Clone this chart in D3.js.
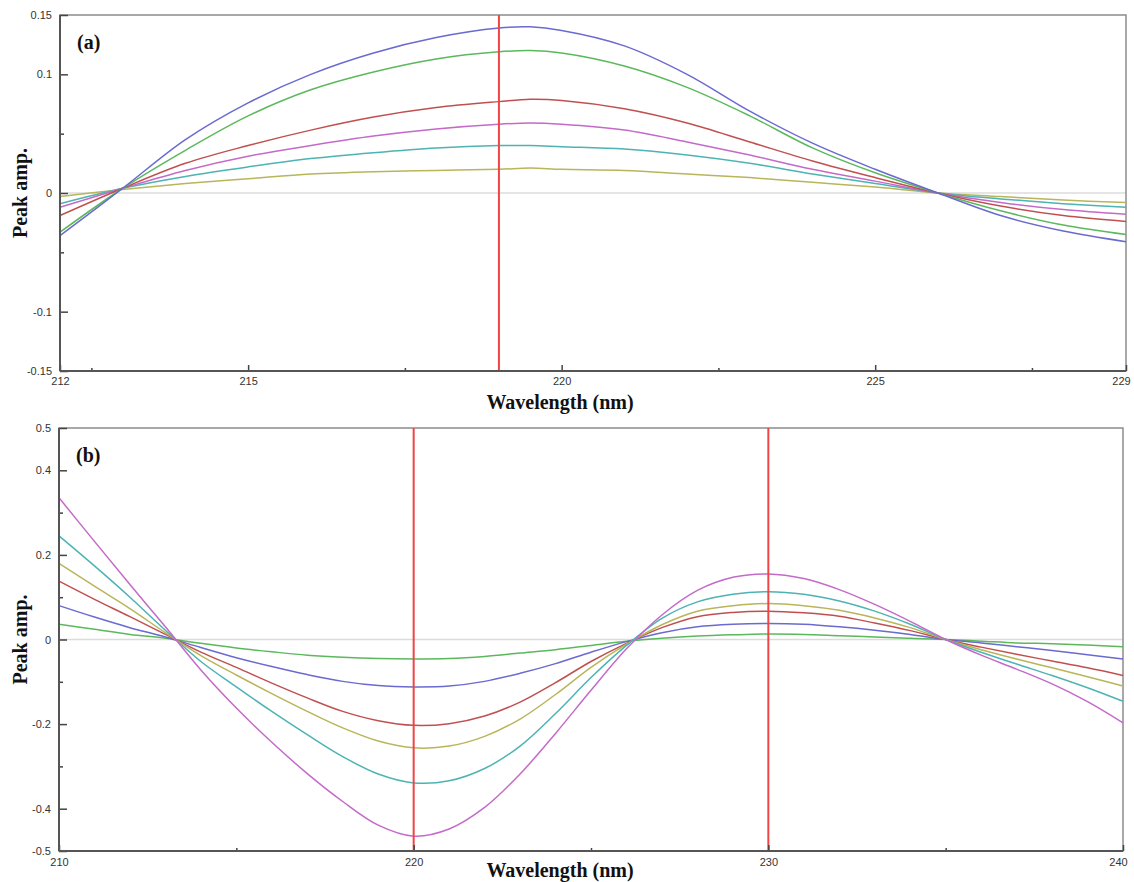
<!DOCTYPE html>
<html>
<head>
<meta charset="utf-8">
<script src="https://cdn.jsdelivr.net/npm/d3@7"></script>
<style>
  body { margin: 0; background: #fff; }
  .tick text { font-family: "Liberation Sans", Arial, sans-serif; font-size: 11px; fill: #333; }
  .axisTitle { font-family: "Liberation Serif", "Times New Roman", serif; font-weight: bold; font-size: 20px; fill: #111; }
</style>
</head>
<body>
<svg id="chart" width="1134" height="882"></svg>
<script>
// panel (a) data
let wavelengthsA = [212, 213, 214, 215, 216, 217, 218, 219, 219.5, 220, 221, 222, 223, 224, 225, 226, 227, 228, 229];
let blueA    = [-0.036, 0.004, 0.045, 0.076, 0.100, 0.118, 0.131, 0.139, 0.140, 0.137, 0.124, 0.100, 0.069, 0.042, 0.020, 0.000, -0.019, -0.032, -0.041];
let greenA   = [-0.033, 0.004, 0.036, 0.065, 0.087, 0.102, 0.113, 0.119, 0.120, 0.118, 0.107, 0.089, 0.065, 0.038, 0.017, 0.000, -0.015, -0.027, -0.035];
let redA     = [-0.019, 0.004, 0.025, 0.040, 0.053, 0.064, 0.072, 0.077, 0.079, 0.078, 0.071, 0.059, 0.043, 0.027, 0.013, 0.000, -0.011, -0.019, -0.024];
let magentaA = [-0.012, 0.004, 0.019, 0.031, 0.040, 0.048, 0.054, 0.058, 0.059, 0.058, 0.053, 0.043, 0.032, 0.020, 0.010, 0.000, -0.008, -0.014, -0.018];
let cyanA    = [-0.009, 0.004, 0.014, 0.022, 0.029, 0.034, 0.038, 0.040, 0.040, 0.039, 0.037, 0.032, 0.025, 0.016, 0.008, 0.000, -0.005, -0.009, -0.012];
let oliveA   = [-0.003, 0.003, 0.008, 0.012, 0.016, 0.018, 0.019, 0.020, 0.021, 0.020, 0.019, 0.016, 0.013, 0.009, 0.005, 0.000, -0.003, -0.006, -0.008];
let markersA = [219];
let xLabelsA = [212, 215, 220, 225, 229];
let xMinorA  = [212.5, 217.5, 222.5, 227.5];
let yLabelsA = [0.15, 0.1, 0, -0.1, -0.15];
let yMinorA  = [0.05, -0.05];

// panel (b) data
let wavelengthsB = [210, 211, 212, 213, 214, 215, 216, 217, 218, 219, 220, 221, 222, 223, 224, 225, 226, 227, 228, 229, 230, 231, 232, 233, 234, 235, 236, 237, 238, 239, 240];
let magentaB = [0.335, 0.232, 0.130, 0.030, -0.072, -0.162, -0.243, -0.317, -0.383, -0.439, -0.465, -0.448, -0.397, -0.318, -0.222, -0.120, -0.022, 0.058, 0.116, 0.147, 0.155, 0.144, 0.118, 0.083, 0.043, 0.000, -0.037, -0.070, -0.105, -0.147, -0.197];
let cyanB    = [0.245, 0.174, 0.100, 0.022, -0.052, -0.112, -0.170, -0.225, -0.277, -0.318, -0.339, -0.334, -0.305, -0.252, -0.175, -0.090, -0.014, 0.050, 0.089, 0.107, 0.113, 0.107, 0.091, 0.067, 0.036, 0.000, -0.030, -0.058, -0.085, -0.114, -0.146];
let oliveB   = [0.180, 0.126, 0.073, 0.016, -0.038, -0.084, -0.128, -0.170, -0.209, -0.240, -0.256, -0.252, -0.229, -0.188, -0.130, -0.066, -0.011, 0.035, 0.067, 0.080, 0.085, 0.080, 0.069, 0.051, 0.028, 0.000, -0.024, -0.046, -0.067, -0.088, -0.110];
let redB     = [0.138, 0.095, 0.054, 0.012, -0.030, -0.066, -0.103, -0.138, -0.170, -0.192, -0.203, -0.199, -0.181, -0.148, -0.102, -0.052, -0.009, 0.028, 0.054, 0.064, 0.067, 0.063, 0.055, 0.039, 0.021, 0.000, -0.018, -0.035, -0.051, -0.067, -0.085];
let blueB    = [0.080, 0.053, 0.028, 0.006, -0.019, -0.043, -0.064, -0.083, -0.099, -0.109, -0.112, -0.110, -0.099, -0.080, -0.057, -0.030, -0.005, 0.016, 0.030, 0.036, 0.038, 0.036, 0.030, 0.022, 0.012, 0.000, -0.008, -0.017, -0.026, -0.036, -0.046];
let greenB   = [0.036, 0.024, 0.012, 0.003, -0.009, -0.020, -0.029, -0.037, -0.042, -0.045, -0.046, -0.045, -0.040, -0.032, -0.024, -0.014, -0.004, 0.003, 0.008, 0.011, 0.013, 0.012, 0.009, 0.006, 0.003, 0.000, -0.004, -0.008, -0.010, -0.013, -0.017];
let markersB = [220, 230];
let xLabelsB = [210, 220, 230, 240];
let xMinorB  = [215, 225, 235];
let yLabelsB = [0.5, 0.4, 0.2, 0, -0.2, -0.4, -0.5];
let yMinorB  = [0.3, 0.1, -0.1, -0.3];

let colors = {
  blue: "#6a6ad0", green: "#5cb85c", red: "#c05050",
  magenta: "#c46ac8", cyan: "#4db3b3", olive: "#b9b55a"
};

let svg = d3.select("#chart");

function drawPanel(p) {
  let x = d3.scaleLinear().domain(p.xDomain).range([p.left, p.right]);
  let y = d3.scaleLinear().domain(p.yDomain).range([p.bottom, p.top]);
  let g = svg.append("g");

  // zero line
  g.append("line")
    .attr("x1", p.left).attr("x2", p.right)
    .attr("y1", y(0)).attr("y2", y(0))
    .attr("stroke", "#dcdcdc").attr("stroke-width", 1.5);

  // frame
  g.append("rect")
    .attr("x", p.left).attr("y", p.top)
    .attr("width", p.right - p.left).attr("height", p.bottom - p.top)
    .attr("fill", "none").attr("stroke", "#8c8c8c").attr("stroke-width", 1.5);

  // curves
  let line = d3.line()
    .x((d, i) => x(p.wavelengths[i]))
    .y(d => y(d))
    .curve(d3.curveCatmullRom.alpha(0.5));
  p.series.forEach(s => {
    g.append("path")
      .datum(s.values)
      .attr("fill", "none")
      .attr("stroke", colors[s.color])
      .attr("stroke-width", 1.5)
      .attr("d", line);
  });

  // red marker lines
  g.selectAll(".marker")
    .data(p.markers)
    .enter()
    .append("line")
    .attr("class", "marker")
    .attr("x1", d => x(d)).attr("x2", d => x(d))
    .attr("y1", p.top).attr("y2", p.bottom)
    .attr("stroke", "#f04545").attr("stroke-width", 2);

  // axes, ticks point inward
  let xAxis = d3.axisBottom(x).tickValues(p.xLabels).tickSizeInner(-6).tickSizeOuter(0)
    .tickPadding(p.xPad).tickFormat(d => String(d));
  let xg = g.append("g").attr("transform", `translate(0,${p.bottom})`).call(xAxis);
  let xMinor = d3.axisBottom(x).tickValues(p.xMinor).tickSizeInner(-3).tickSizeOuter(0).tickFormat("");
  let xmg = g.append("g").attr("transform", `translate(0,${p.bottom})`).call(xMinor);

  // last x label sits at the page edge, nudge it in
  xg.selectAll(".tick text").filter(d => d === p.xDomain[1]).attr("dx", -5);

  let yAxis = d3.axisLeft(y).tickValues(p.yLabels).tickSizeInner(-8).tickSizeOuter(0)
    .tickPadding(8).tickFormat(d => String(d));
  let yg = g.append("g").attr("transform", `translate(${p.left},0)`).call(yAxis);
  let yMinor = d3.axisLeft(y).tickValues(p.yMinor).tickSizeInner(-4).tickSizeOuter(0).tickFormat("");
  let ymg = g.append("g").attr("transform", `translate(${p.left},0)`).call(yMinor);

  [xg, xmg, yg, ymg].forEach(a => {
    a.select(".domain").remove();
    a.selectAll(".tick line").attr("stroke", "#444").attr("stroke-width", 1.5);
  });

  // darker left and bottom axis lines
  g.append("line").attr("x1", p.left).attr("x2", p.left).attr("y1", p.top).attr("y2", p.bottom)
    .attr("stroke", "#555").attr("stroke-width", 2);
  g.append("line").attr("x1", p.left).attr("x2", p.right).attr("y1", p.bottom).attr("y2", p.bottom)
    .attr("stroke", "#555").attr("stroke-width", 2);

  // titles
  g.append("text").attr("class", "axisTitle")
    .attr("x", 560).attr("y", p.xTitleY)
    .attr("text-anchor", "middle")
    .text("Wavelength (nm)");
  g.append("text").attr("class", "axisTitle")
    .attr("transform", `translate(27,${y(0)})rotate(-90)`)
    .attr("text-anchor", "middle")
    .text("Peak amp.");
  g.append("text").attr("class", "axisTitle")
    .attr("x", p.left + 17).attr("y", p.top + 34)
    .text(p.label);
}

drawPanel({
  left: 60, right: 1126, top: 15, bottom: 371,
  xDomain: [212, 229], yDomain: [-0.15, 0.15],
  wavelengths: wavelengthsA,
  series: [
    {color: "olive", values: oliveA}, {color: "cyan", values: cyanA},
    {color: "magenta", values: magentaA}, {color: "red", values: redA},
    {color: "green", values: greenA}, {color: "blue", values: blueA}
  ],
  markers: markersA, xLabels: xLabelsA, xMinor: xMinorA,
  yLabels: yLabelsA, yMinor: yMinorA,
  xPad: 6, xTitleY: 409, label: "(a)"
});

drawPanel({
  left: 59, right: 1123, top: 428, bottom: 851,
  xDomain: [210, 240], yDomain: [-0.5, 0.5],
  wavelengths: wavelengthsB,
  series: [
    {color: "green", values: greenB}, {color: "blue", values: blueB},
    {color: "red", values: redB}, {color: "olive", values: oliveB},
    {color: "cyan", values: cyanB}, {color: "magenta", values: magentaB}
  ],
  markers: markersB, xLabels: xLabelsB, xMinor: xMinorB,
  yLabels: yLabelsB, yMinor: yMinorB,
  xPad: 7, xTitleY: 877, label: "(b)"
});
</script>
</body>
</html>
